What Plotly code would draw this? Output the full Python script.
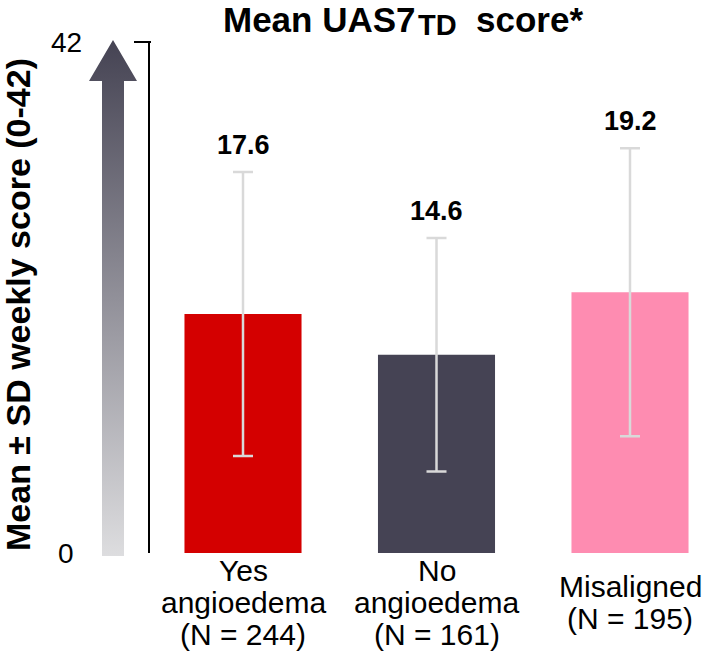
import plotly.graph_objects as go

# ---- data ----
groups = ["Yes angioedema", "No angioedema", "Misaligned"]
group_label_lines = [["Yes", "angioedema", "(N = 244)"],
                     ["No", "angioedema", "(N = 161)"],
                     ["Misaligned", "(N = 195)"]]
mean_scores = [17.6, 14.6, 19.2]
sd_scores = [10.45, 8.6, 10.6]
bar_colors = ["#d40000", "#454354", "#fe8cb1"]
axis_tick_labels = ["0", "42"]

W, H = 709, 654
FONT = "Liberation Sans, Arial, sans-serif"

# plot-area geometry (pixels)
PL, PR, PT, PB = 150, 709, 42, 553
YMAX = 37.63


def px(x):
    return x / W


def py(y):
    return 1 - y / H


x_pos = list(range(len(groups)))

fig = go.Figure()

fig.add_trace(go.Bar(
    x=x_pos, y=mean_scores, width=0.605,
    marker=dict(color=bar_colors, line=dict(width=0)),
    error_y=dict(type="data", array=sd_scores, visible=True,
                 color="#d9d9d9", thickness=2.5, width=10),
    hoverinfo="skip", showlegend=False,
))

# gradient arrow (decorative), drawn in a pixel-space helper subplot
arrow_x = [113, 137, 124, 124, 102, 102, 89, 113]
arrow_y = [40, 81, 81, 556, 556, 81, 81, 40]
fig.add_trace(go.Scatter(
    x=arrow_x, y=arrow_y, xaxis="x2", yaxis="y2",
    mode="lines", line=dict(width=0), fill="toself",
    fillgradient=dict(type="vertical",
                      colorscale=[[0, "#dddddf"], [1, "#454353"]],
                      start=556, stop=40),
    hoverinfo="skip", showlegend=False,
))

annotations = []
# value labels
for i, (m, s) in enumerate(zip(mean_scores, sd_scores)):
    annotations.append(dict(
        x=i, y=m + s, xref="x", yref="y", text=f"<b>{m}</b>",
        showarrow=False, yanchor="bottom", yshift=10,
        font=dict(family=FONT, size=27, color="black")))

# category labels (one annotation per line for tight spacing)
line_gap = 32
block_center = 602
for i, lines in enumerate(group_label_lines):
    n = len(lines)
    for j, t in enumerate(lines):
        yc = block_center + (j - (n - 1) / 2) * line_gap
        annotations.append(dict(
            x=i, y=py(yc), xref="x", yref="paper", text=t,
            showarrow=False, yanchor="middle",
            font=dict(family=FONT, size=30, color="black")))

# y tick labels
annotations.append(dict(x=px(66), y=py(PB), xref="paper", yref="paper",
                        text=axis_tick_labels[0], showarrow=False,
                        xanchor="center", yanchor="middle",
                        font=dict(family=FONT, size=28, color="black")))
annotations.append(dict(x=px(66), y=py(PT), xref="paper", yref="paper",
                        text=axis_tick_labels[1], showarrow=False,
                        xanchor="center", yanchor="middle",
                        font=dict(family=FONT, size=28, color="black")))

# y-axis title
annotations.append(dict(x=px(18), y=py(305), xref="paper", yref="paper",
                        text="<b>Mean ± SD weekly score (0-42)</b>",
                        textangle=-90, showarrow=False,
                        xanchor="center", yanchor="middle",
                        font=dict(family=FONT, size=34, color="black")))

# chart title (pieces for control of the subscript size)
annotations.append(dict(x=px(418), y=py(19), xref="paper", yref="paper",
                        text="<b>Mean UAS7</b>",
                        showarrow=False, xanchor="right", yanchor="middle",
                        font=dict(family=FONT, size=35, color="black")))
annotations.append(dict(x=px(416), y=py(25), xref="paper", yref="paper",
                        text="<b>TD</b>",
                        showarrow=False, xanchor="left", yanchor="middle",
                        font=dict(family=FONT, size=29, color="black")))
annotations.append(dict(x=px(474), y=py(19), xref="paper", yref="paper",
                        text="<b>score*</b>",
                        showarrow=False, xanchor="left", yanchor="middle",
                        font=dict(family=FONT, size=35, color="black")))

shapes = [
    dict(type="line", xref="paper", yref="paper",
         x0=px(134), x1=px(151), y0=py(PT), y1=py(PT),
         line=dict(color="black", width=2)),
]

bar_spacing = 193.5
x0 = -(243 - PL) / bar_spacing
x1 = x0 + (PR - PL) / bar_spacing

fig.update_layout(
    width=W, height=H,
    margin=dict(l=0, r=0, t=0, b=0),
    paper_bgcolor="white", plot_bgcolor="white",
    xaxis=dict(domain=[px(PL), 1], range=[x0, x1], showticklabels=False,
               showgrid=False, zeroline=False, showline=False, ticks=""),
    yaxis=dict(domain=[py(PB), py(PT)], range=[0, YMAX], showticklabels=False,
               showgrid=False, zeroline=False, showline=True,
               linecolor="black", linewidth=2, ticks=""),
    xaxis2=dict(domain=[0, px(PL)], range=[0, PL], visible=False, anchor="y2"),
    yaxis2=dict(domain=[0, 1], range=[H, 0], visible=False, anchor="x2"),
    annotations=annotations,
    shapes=shapes,
    showlegend=False,
)

fig.write_html(
    "out.html",
    config={"displayModeBar": False},
    post_script="document.body.style.margin='0px';"
                "document.body.style.overflow='hidden';",
)
